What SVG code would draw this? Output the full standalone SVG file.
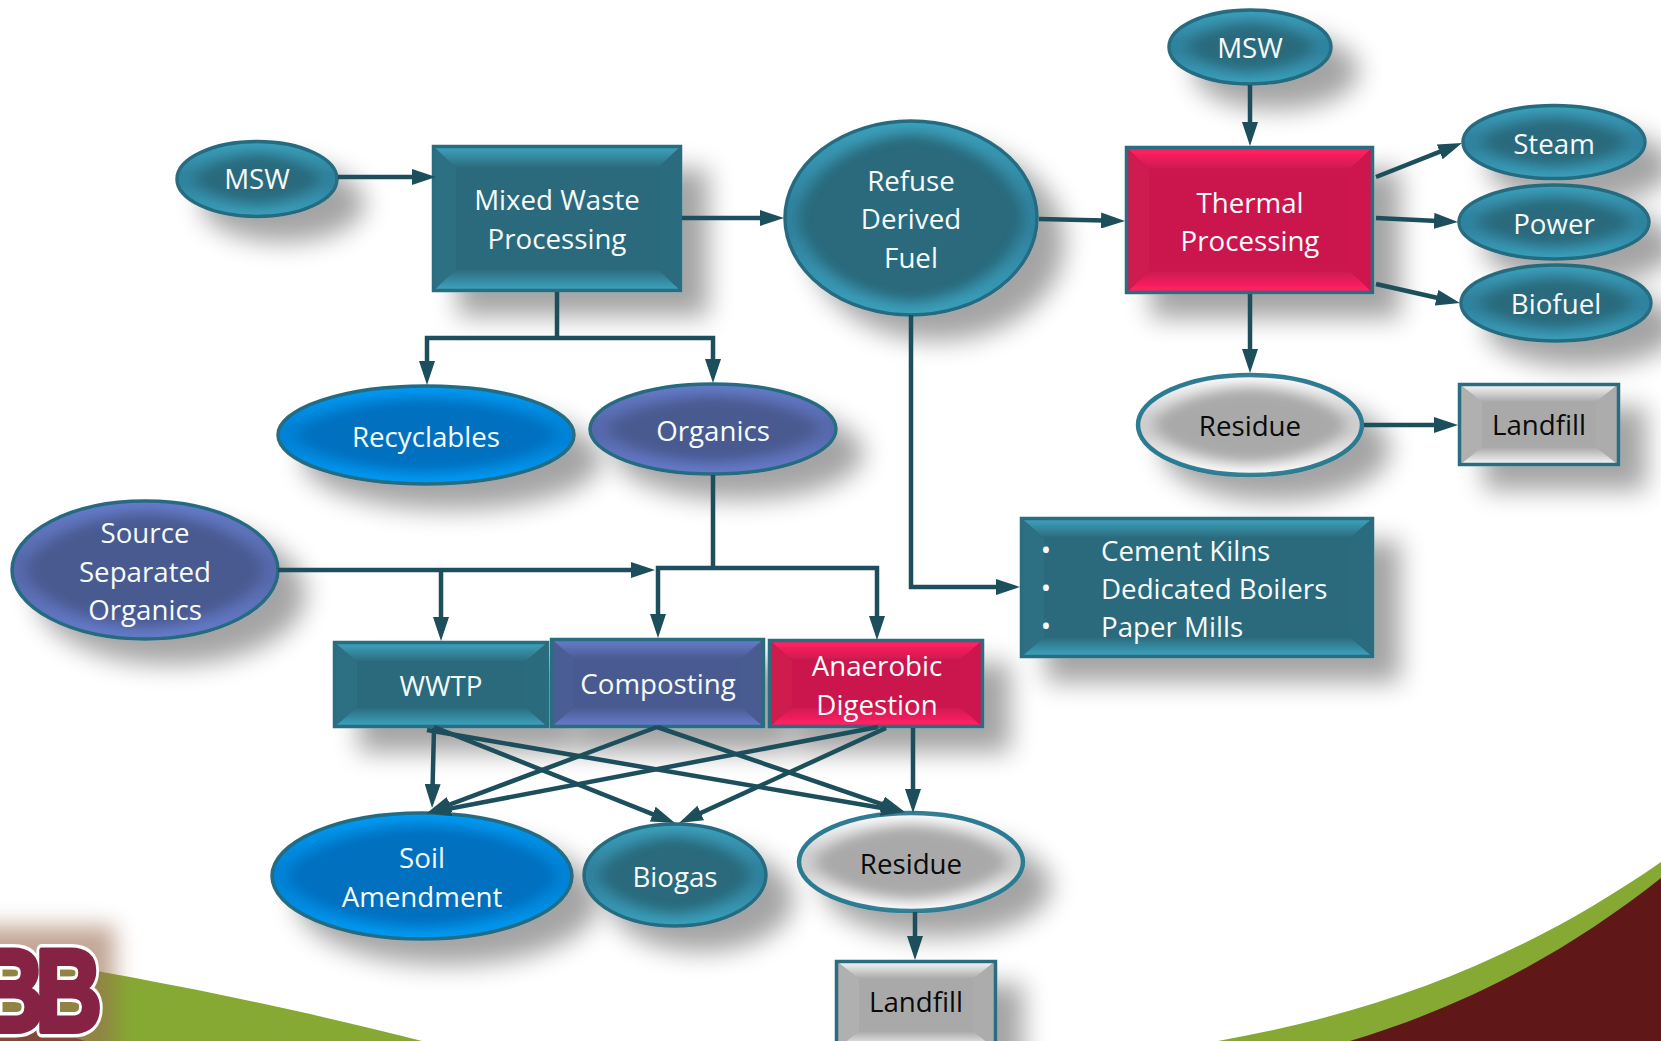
<svg xmlns="http://www.w3.org/2000/svg" width="1661" height="1041" viewBox="0 0 1661 1041">
<style>
text{font-family:"Open Sans","Noto Sans",sans-serif;font-size:27.700px;text-anchor:middle;fill:#f6fbfc}
text.d{fill:#0a0a0a}
text.l{text-anchor:start}
.c{fill:none;stroke:#1d4e5c;stroke-width:4.500;marker-end:url(#ah)}
.n{fill:none;stroke:#1d4e5c;stroke-width:4.500}
.b{stroke:#2a6c80;stroke-width:3.500}
.g{stroke:#2f7c93;stroke-width:4.500}
.tt{fill:url(#tT)}.tb{fill:url(#tB)}.te{fill:url(#tE)}.tr{fill:#2b6a7c}
.pt{fill:url(#pT)}.pb{fill:url(#pB)}.pe{fill:url(#pE)}.pr{fill:#4a5a90}
.rt{fill:url(#rT)}.rb{fill:url(#rB)}.rr{fill:#cb194e}
.gt{fill:url(#gT)}.gb{fill:url(#gB)}.ge{fill:url(#gE)}.gr{fill:#a9a9a9}
.be{fill:url(#bE)}
.sl{fill:#2d7083}.sr{fill:#2b6c7e}
.psl{fill:#4c5d95}.psr{fill:#4a5b91}
.rsl{fill:#ce1a50}.rsr{fill:#cc194e}
.gsl{fill:#b0b0b0}.gsr{fill:#acacac}
.logo{text-anchor:end;font-family:"Liberation Sans",sans-serif;font-weight:bold;font-size:116px;letter-spacing:-11px;fill:#862345;stroke-linejoin:round}
</style>
<defs>
<marker id="ah" markerUnits="userSpaceOnUse" markerWidth="24" markerHeight="16" refX="14" refY="8" orient="auto"><path d="M0 0L24 8L0 16Z" fill="#1d4e5c"/></marker>
<filter id="sh" x="-40%" y="-60%" width="200%" height="260%"><feGaussianBlur in="SourceAlpha" stdDeviation="13"/><feOffset dx="26" dy="24"/><feComponentTransfer><feFuncA type="linear" slope="0.36"/></feComponentTransfer><feMerge><feMergeNode/><feMergeNode in="SourceGraphic"/></feMerge></filter>
<filter id="et" x="-40%" y="-80%" width="200%" height="300%"><feMorphology in="SourceAlpha" operator="erode" radius="13" result="e"/><feGaussianBlur in="e" stdDeviation="6.500" result="eb"/><feFlood flood-color="#2b6a7c"/><feComposite in2="eb" operator="in" result="core"/><feGaussianBlur in="SourceAlpha" stdDeviation="13"/><feOffset dx="26" dy="24"/><feComponentTransfer result="s"><feFuncA type="linear" slope="0.36"/></feComponentTransfer><feMerge><feMergeNode in="s"/><feMergeNode in="SourceGraphic"/><feMergeNode in="core"/></feMerge></filter>
<filter id="ep" x="-40%" y="-80%" width="200%" height="300%"><feMorphology in="SourceAlpha" operator="erode" radius="13" result="e"/><feGaussianBlur in="e" stdDeviation="6.500" result="eb"/><feFlood flood-color="#4a5a90"/><feComposite in2="eb" operator="in" result="core"/><feGaussianBlur in="SourceAlpha" stdDeviation="13"/><feOffset dx="26" dy="24"/><feComponentTransfer result="s"><feFuncA type="linear" slope="0.36"/></feComponentTransfer><feMerge><feMergeNode in="s"/><feMergeNode in="SourceGraphic"/><feMergeNode in="core"/></feMerge></filter>
<filter id="eb" x="-40%" y="-80%" width="200%" height="300%"><feMorphology in="SourceAlpha" operator="erode" radius="13" result="e"/><feGaussianBlur in="e" stdDeviation="6.500" result="eb"/><feFlood flood-color="#0070bf"/><feComposite in2="eb" operator="in" result="core"/><feGaussianBlur in="SourceAlpha" stdDeviation="13"/><feOffset dx="26" dy="24"/><feComponentTransfer result="s"><feFuncA type="linear" slope="0.36"/></feComponentTransfer><feMerge><feMergeNode in="s"/><feMergeNode in="SourceGraphic"/><feMergeNode in="core"/></feMerge></filter>
<filter id="eg" x="-40%" y="-80%" width="200%" height="300%"><feMorphology in="SourceAlpha" operator="erode" radius="13" result="e"/><feGaussianBlur in="e" stdDeviation="6.500" result="eb"/><feFlood flood-color="#a9a9a9"/><feComposite in2="eb" operator="in" result="core"/><feGaussianBlur in="SourceAlpha" stdDeviation="13"/><feOffset dx="26" dy="24"/><feComponentTransfer result="s"><feFuncA type="linear" slope="0.36"/></feComponentTransfer><feMerge><feMergeNode in="s"/><feMergeNode in="SourceGraphic"/><feMergeNode in="core"/></feMerge></filter>
<filter id="hl" x="-50%" y="-50%" width="200%" height="200%"><feGaussianBlur stdDeviation="11"/></filter>
<linearGradient id="tT" x1="0" y1="0" x2="0" y2="1"><stop offset="0" stop-color="#3ca2bd"/><stop offset=".25" stop-color="#3a9ab4"/><stop offset="1" stop-color="#2b6a7c"/></linearGradient>
<linearGradient id="tB" x1="0" y1="1" x2="0" y2="0"><stop offset="0" stop-color="#3ca2bd"/><stop offset=".25" stop-color="#3a9ab4"/><stop offset="1" stop-color="#2b6a7c"/></linearGradient>
<linearGradient id="pT" x1="0" y1="0" x2="0" y2="1"><stop offset="0" stop-color="#667ccb"/><stop offset=".25" stop-color="#6277c2"/><stop offset="1" stop-color="#4a5a90"/></linearGradient>
<linearGradient id="pB" x1="0" y1="1" x2="0" y2="0"><stop offset="0" stop-color="#667ccb"/><stop offset=".25" stop-color="#6277c2"/><stop offset="1" stop-color="#4a5a90"/></linearGradient>
<linearGradient id="rT" x1="0" y1="0" x2="0" y2="1"><stop offset="0" stop-color="#ff2163"/><stop offset=".3" stop-color="#fb2060"/><stop offset="1" stop-color="#cb194e"/></linearGradient>
<linearGradient id="rB" x1="0" y1="1" x2="0" y2="0"><stop offset="0" stop-color="#ff2163"/><stop offset=".3" stop-color="#fb2060"/><stop offset="1" stop-color="#cb194e"/></linearGradient>
<linearGradient id="gT" x1="0" y1="0" x2="0" y2="1"><stop offset="0" stop-color="#ffffff"/><stop offset="1" stop-color="#a9a9a9"/></linearGradient>
<linearGradient id="gB" x1="0" y1="1" x2="0" y2="0"><stop offset="0" stop-color="#ffffff"/><stop offset="1" stop-color="#a9a9a9"/></linearGradient>
<linearGradient id="tE" x1="0" y1="0" x2="0" y2="1"><stop offset="0" stop-color="#3ca2bd"/><stop offset=".42" stop-color="#3384a0"/><stop offset=".58" stop-color="#3384a0"/><stop offset="1" stop-color="#3ca2bd"/></linearGradient>
<linearGradient id="pE" x1="0" y1="0" x2="0" y2="1"><stop offset="0" stop-color="#667ccb"/><stop offset=".42" stop-color="#586bae"/><stop offset=".58" stop-color="#586bae"/><stop offset="1" stop-color="#667ccb"/></linearGradient>
<linearGradient id="bE" x1="0" y1="0" x2="0" y2="1"><stop offset="0" stop-color="#009cf5"/><stop offset=".42" stop-color="#0084d8"/><stop offset=".58" stop-color="#0084d8"/><stop offset="1" stop-color="#009cf5"/></linearGradient>
<linearGradient id="gE" x1="0" y1="0" x2="0" y2="1"><stop offset="0" stop-color="#ffffff"/><stop offset=".42" stop-color="#d0d0d0"/><stop offset=".58" stop-color="#d0d0d0"/><stop offset="1" stop-color="#ffffff"/></linearGradient>
</defs>

<g id="background">
<path d="M0 955C150 978 300 1010 422 1041L0 1041Z" fill="#85a933"/>
<path d="M0 1018C30 1024 60 1032 85 1041L0 1041Z" fill="#5f1717"/>
<path d="M1218 1041C1380 1012 1520 960 1661 862L1661 1041Z" fill="#85a933"/>
<path d="M1350 1041C1470 1005 1570 950 1661 878L1661 1041Z" fill="#5f1717"/>
</g>
<g id="logo">
<rect x="-40" y="926" width="155" height="135" fill="#9a6a50" opacity=".6" filter="url(#hl)"/>
<text class="logo" transform="translate(93 1031) scale(.79 1)" style="stroke:#fff;stroke-width:13">BB</text>
<text class="logo" transform="translate(93 1031) scale(.79 1)" style="stroke:#862345;stroke-width:6">BB</text>
</g>

<g id="msw-left"><ellipse class="te b" cx="257" cy="179" rx="80" ry="37.500" filter="url(#et)"/><text x="257" y="189">MSW</text></g>

<g id="source"><ellipse class="pe b" cx="145" cy="570" rx="133" ry="69" filter="url(#ep)"/><text x="145" y="543">Source</text><text x="145" y="582">Separated</text><text x="145" y="620">Organics</text></g>

<g id="mixed"><g filter="url(#sh)"><rect class="tr" x="432" y="145" width="250" height="147"/><polygon class="tt" points="432,145 682,145 658,168 456,168"/><polygon class="tb" points="432,292 682,292 658,269 456,269"/><polygon class="sl" points="432,145 456,168 456,269 432,292"/><polygon class="sr" points="682,145 658,168 658,269 682,292"/><rect x="433.500" y="146.500" width="247" height="144" fill="none" class="b"/></g><text x="557" y="210">Mixed Waste</text><text x="557" y="249">Processing</text></g>

<g id="recyclables"><ellipse class="be b" cx="426" cy="435" rx="148" ry="49" filter="url(#eb)"/><text x="426" y="447">Recyclables</text></g>

<g id="organics"><ellipse class="pe b" cx="713" cy="429" rx="123" ry="45" filter="url(#ep)"/><text x="713" y="441">Organics</text></g>

<g id="refuse"><ellipse class="te b" cx="911" cy="218" rx="126" ry="97" filter="url(#et)"/><text x="911" y="191">Refuse</text><text x="911" y="229">Derived</text><text x="911" y="268">Fuel</text></g>

<g id="msw-top"><ellipse class="te b" cx="1250" cy="47" rx="81" ry="37" filter="url(#et)"/><text x="1250" y="58">MSW</text></g>

<g id="thermal"><g filter="url(#sh)"><rect class="rr" x="1125" y="146" width="249" height="148"/><polygon class="rt" points="1125,146 1374,146 1350,169 1149,169"/><polygon class="rb" points="1125,294 1374,294 1350,271 1149,271"/><polygon class="rsl" points="1125,146 1149,169 1149,271 1125,294"/><polygon class="rsr" points="1374,146 1350,169 1350,271 1374,294"/><rect x="1126.500" y="147.500" width="246" height="145" fill="none" class="b"/></g><text x="1250" y="213">Thermal</text><text x="1250" y="251">Processing</text></g>

<g id="wwtp"><g filter="url(#sh)"><rect class="tr" x="333" y="641" width="216" height="87"/><polygon class="tt" points="333,641 549,641 525,662 357,662"/><polygon class="tb" points="333,728 549,728 525,707 357,707"/><polygon class="sl" points="333,641 357,662 357,707 333,728"/><polygon class="sr" points="549,641 525,662 525,707 549,728"/><rect x="334.500" y="642.500" width="213" height="84" fill="none" class="b"/></g><text x="441" y="696">WWTP</text></g>

<g id="composting"><g filter="url(#sh)"><rect class="pr" x="550" y="638" width="215" height="90"/><polygon class="pt" points="550,638 765,638 741,659 574,659"/><polygon class="pb" points="550,728 765,728 741,707 574,707"/><polygon class="psl" points="550,638 574,659 574,707 550,728"/><polygon class="psr" points="765,638 741,659 741,707 765,728"/><rect x="551.500" y="639.500" width="212" height="87" fill="none" class="b"/></g><text x="658" y="694">Composting</text></g>

<g id="anaerobic"><g filter="url(#sh)"><rect class="rr" x="768" y="639" width="216" height="89"/><polygon class="rt" points="768,639 984,639 960,660 792,660"/><polygon class="rb" points="768,728 984,728 960,707 792,707"/><polygon class="rsl" points="768,639 792,660 792,707 768,728"/><polygon class="rsr" points="984,639 960,660 960,707 984,728"/><rect x="769.500" y="640.500" width="213" height="86" fill="none" class="b"/></g><text x="877" y="676">Anaerobic</text><text x="877" y="715">Digestion</text></g>

<g id="steam"><ellipse class="te b" cx="1554" cy="142" rx="91" ry="36.500" filter="url(#et)"/><text x="1554" y="154">Steam</text></g>
<g id="power"><ellipse class="te b" cx="1554" cy="222" rx="95" ry="37" filter="url(#et)"/><text x="1554" y="234">Power</text></g>
<g id="biofuel"><ellipse class="te b" cx="1556" cy="303" rx="95" ry="38" filter="url(#et)"/><text x="1556" y="314">Biofuel</text></g>

<g id="residue-top"><ellipse class="ge g" cx="1250" cy="425" rx="112" ry="50" filter="url(#eg)"/><text class="d" x="1250" y="436">Residue</text></g>

<g id="landfill-top"><g filter="url(#sh)"><rect class="gr" x="1458" y="383" width="162" height="83"/><polygon class="gt" points="1458,383 1620,383 1596,402 1482,402"/><polygon class="gb" points="1458,466 1620,466 1596,447 1482,447"/><polygon class="gsl" points="1458,383 1482,402 1482,447 1458,466"/><polygon class="gsr" points="1620,383 1596,402 1596,447 1620,466"/><rect x="1459.500" y="384.500" width="159" height="80" fill="none" class="b"/></g><text class="d" x="1539" y="435">Landfill</text></g>

<g id="end-uses"><g filter="url(#sh)"><rect class="tr" x="1020" y="517" width="354" height="141"/><polygon class="tt" points="1020,517 1374,517 1350,538 1044,538"/><polygon class="tb" points="1020,658 1374,658 1350,637 1044,637"/><polygon class="sl" points="1020,517 1044,538 1044,637 1020,658"/><polygon class="sr" points="1374,517 1350,538 1350,637 1374,658"/><rect x="1021.500" y="518.500" width="351" height="138" fill="none" class="b"/></g>
<text x="1046" y="560">•</text><text x="1046" y="598">•</text><text x="1046" y="636">•</text>
<text class="l" x="1101" y="561">Cement Kilns</text><text class="l" x="1101" y="599">Dedicated Boilers</text><text class="l" x="1101" y="637">Paper Mills</text></g>

<g id="soil"><ellipse class="be b" cx="422" cy="876" rx="150" ry="63" filter="url(#eb)"/><text x="422" y="868">Soil</text><text x="422" y="907">Amendment</text></g>
<g id="biogas"><ellipse class="te b" cx="675" cy="875" rx="91" ry="51" filter="url(#et)"/><text x="675" y="887">Biogas</text></g>
<g id="residue-bottom"><ellipse class="ge g" cx="911" cy="862" rx="112" ry="49" filter="url(#eg)"/><text class="d" x="911" y="874">Residue</text></g>
<g id="landfill-bottom"><g filter="url(#sh)"><rect class="gr" x="835" y="960" width="162" height="90"/><polygon class="gt" points="835,960 997,960 973,979 859,979"/><polygon class="gb" points="835,1050 997,1050 973,1031 859,1031"/><polygon class="gsl" points="835,960 859,979 859,1031 835,1050"/><polygon class="gsr" points="997,960 973,979 973,1031 997,1050"/><rect x="836.500" y="961.500" width="159" height="87" fill="none" class="b"/></g><text class="d" x="916" y="1012">Landfill</text></g>

<g id="connectors">
<line class="c" x1="338" y1="177" x2="426" y2="177"/>
<line class="c" x1="682" y1="218" x2="774" y2="218"/>
<line class="c" x1="1039" y1="219" x2="1115" y2="220.800"/>
<line class="c" x1="1250" y1="85" x2="1250" y2="136"/>
<line class="c" x1="1376" y1="177" x2="1452.700" y2="146.700"/>
<line class="c" x1="1376" y1="218" x2="1448" y2="221.500"/>
<line class="c" x1="1376" y1="284" x2="1450.200" y2="300.800"/>
<line class="c" x1="1250" y1="294" x2="1250" y2="363"/>
<line class="c" x1="1364" y1="425" x2="1448" y2="425"/>
<line class="n" x1="557" y1="292" x2="557" y2="338"/>
<path class="c" d="M557 338H427V375"/>
<path class="c" d="M557 338H713V373"/>
<path class="c" d="M278 570H645"/>
<line class="c" x1="441" y1="570" x2="441" y2="631"/>
<line class="n" x1="713" y1="475" x2="713" y2="568"/>
<path class="c" d="M713 568H658V628"/>
<path class="c" d="M713 568H877V630"/>
<path class="c" d="M911 315V587H1010"/>
<line class="c" x1="434" y1="728" x2="432.300" y2="798"/>
<line class="c" x1="427" y1="730" x2="895.100" y2="810.300"/>
<line class="c" x1="434" y1="727" x2="665.700" y2="819.300"/>
<line class="c" x1="657" y1="727" x2="436.400" y2="809.500"/>
<line class="c" x1="657" y1="727" x2="895.500" y2="808.800"/>
<line class="c" x1="878" y1="727" x2="436.800" y2="811.100"/>
<line class="c" x1="886" y1="728" x2="688.100" y2="818.800"/>
<line class="c" x1="913" y1="728" x2="913" y2="803"/>
<line class="c" x1="915" y1="912" x2="915" y2="950"/>
</g>
</svg>
